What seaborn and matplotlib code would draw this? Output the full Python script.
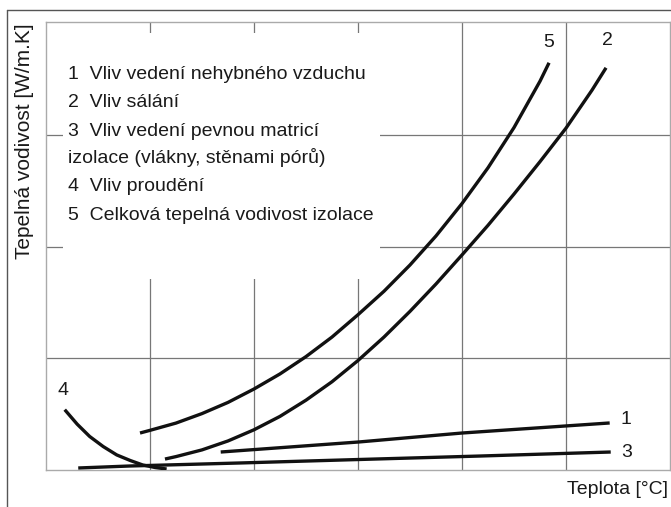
import matplotlib
matplotlib.use("Agg")
import matplotlib.pyplot as plt
import seaborn as sns
from matplotlib.patches import Rectangle
from matplotlib.lines import Line2D

# ---- data (abstract units: grid cells) ----
c4_x = [0.18, 0.30, 0.42, 0.55, 0.68, 0.81, 0.93, 1.05, 1.16]
c4_y = [0.54, 0.41, 0.30, 0.21, 0.135, 0.085, 0.045, 0.022, 0.009]

c3_x = [0.31, 0.81, 1.87, 3.01, 4.17, 5.43]
c3_y = [0.018, 0.036, 0.063, 0.094, 0.125, 0.161]

c1_x = [1.68, 3.01, 4.00, 5.42]
c1_y = [0.161, 0.251, 0.331, 0.421]

c5_x = [0.904, 1.00, 1.25, 1.50, 1.75, 2.00, 2.25, 2.50, 2.75, 3.00,
        3.25, 3.50, 3.75, 4.00, 4.25, 4.50, 4.75, 4.837]
c5_y = [0.331, 0.355, 0.420, 0.505, 0.605, 0.725, 0.860, 1.015, 1.190, 1.390,
        1.600, 1.835, 2.095, 2.385, 2.705, 3.065, 3.480, 3.645]

c2_x = [1.144, 1.25, 1.50, 1.75, 2.00, 2.25, 2.50, 2.75, 3.00, 3.25,
        3.50, 3.75, 4.00, 4.25, 4.50, 4.75, 5.00, 5.25, 5.385]
c2_y = [0.098, 0.120, 0.180, 0.260, 0.360, 0.480, 0.625, 0.790, 0.980, 1.190,
        1.420, 1.665, 1.925, 2.190, 2.470, 2.760, 3.060, 3.400, 3.600]

legend_lines = [
    "1  Vliv vedení nehybného vzduchu",
    "2  Vliv sálání",
    "3  Vliv vedení pevnou matricí",
    "izolace (vlákny, stěnami pórů)",
    "4  Vliv proudění",
    "5  Celková tepelná vodivost izolace",
]
curve_labels = ["5", "2", "1", "3", "4"]
ylabel = "Tepelná vodivost [W/m.K]"
xlabel = "Teplota [°C]"

sns.set_style("white")
plt.rcParams["font.family"] = ["Liberation Sans", "DejaVu Sans"]

W, H = 671, 507
fig = plt.figure(figsize=(W / 100, H / 100), dpi=100)
ax = fig.add_axes([46 / W, (H - 470) / H, (670 - 46) / W, (470 - 22) / H])
ax.set_xlim(0, 6)
ax.set_ylim(0, 4.01)
ax.set_xticks([1, 2, 3, 4, 5])
ax.set_yticks([1, 2, 3])
ax.tick_params(length=0, labelbottom=False, labelleft=False)
ax.set_axisbelow(True)
ax.grid(True, color="#777777", lw=0.9)
for s in ax.spines.values():
    s.set_color("#aaaaaa")
    s.set_linewidth(1.0)

# white box behind the legend text (breaks the grid)
ax.add_patch(Rectangle((0.163, 1.71), 3.21 - 0.163, 3.91 - 1.71,
                       facecolor="white", edgecolor="none", zorder=1))

lw = 2.4
for xs, ys in [(c4_x, c4_y), (c3_x, c3_y), (c1_x, c1_y), (c5_x, c5_y), (c2_x, c2_y)]:
    sns.lineplot(x=xs, y=ys, ax=ax, color="#111111", lw=lw, sort=False,
                 estimator=None, zorder=3, solid_capstyle="butt",
                 solid_joinstyle="round")

fs = 14
txt_col = "#1a1a1a"
ys_leg = [3.536, 3.286, 3.026, 2.793, 2.534, 2.274]
for t, yy in zip(legend_lines, ys_leg):
    ax.text(0.21, yy, t, fontsize=fs, va="center", ha="left", color=txt_col, zorder=4)

lab_pos = [(4.83, 3.83), (5.40, 3.84), (5.58, 0.45), (5.58, 0.16), (0.16, 0.71)]
for t, (xx, yy) in zip(curve_labels, lab_pos):
    ax.text(xx, yy, t, fontsize=fs, va="center", ha="center", color=txt_col, zorder=4)

fig.text(25 / W, 1 - 23 / H, ylabel, rotation=90, ha="center", va="top",
         fontsize=15, color=txt_col)
fig.text(668 / W, 1 - 489 / H, xlabel, ha="right", va="center",
         fontsize=14, color=txt_col)

# outer frame
fig.add_artist(Line2D([7 / W, 1.0], [1 - 10 / H, 1 - 10 / H], color="#555555", lw=1.0,
                      transform=fig.transFigure))
fig.add_artist(Line2D([7 / W, 7 / W], [0, 1 - 10 / H], color="#555555", lw=1.0,
                      transform=fig.transFigure))

fig.savefig("out.png", dpi=100)
